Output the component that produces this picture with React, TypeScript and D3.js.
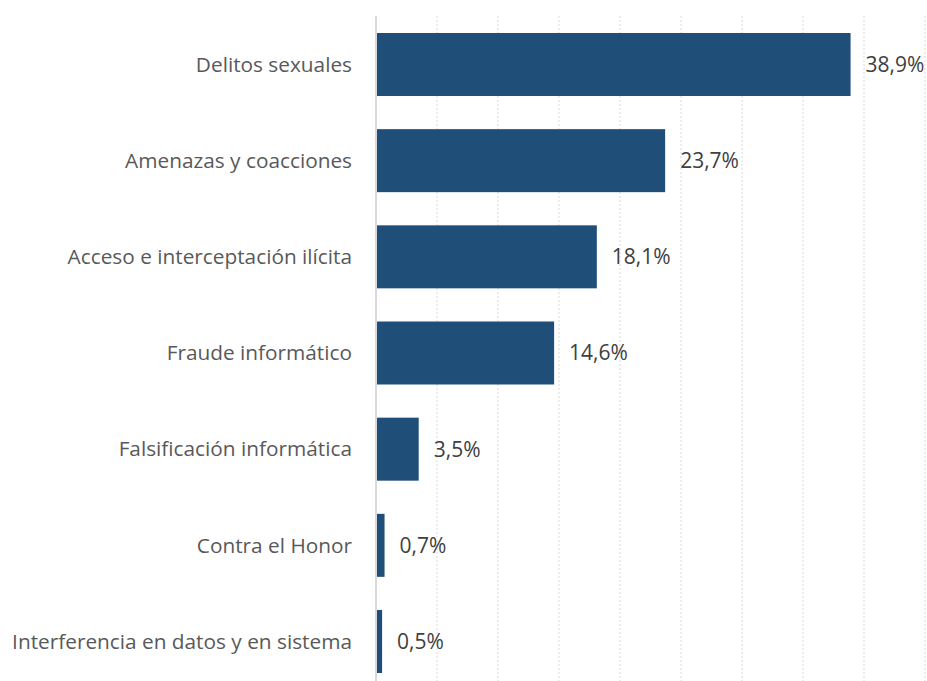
import React from "react";
import * as d3 from "d3";

const categories = [
  "Delitos sexuales",
  "Amenazas y coacciones",
  "Acceso e interceptación ilícita",
  "Fraude informático",
  "Falsificación informática",
  "Contra el Honor",
  "Interferencia en datos y en sistema",
];
const values = [38.9, 23.7, 18.1, 14.6, 3.5, 0.7, 0.5];
const valueLabels = ["38,9%", "23,7%", "18,1%", "14,6%", "3,5%", "0,7%", "0,5%"];
const gridTicks = [5, 10, 15, 20, 25, 30, 35, 40, 45];

const W = 927;
const H = 681;
const x0 = 376;

export default function App() {
  const x = d3.scaleLinear().domain([0, 45]).range([x0, 925]);
  const y = d3
    .scaleBand<string>()
    .domain(categories)
    .range([16.4, 689.6])
    .paddingInner(0.345)
    .paddingOuter(0.1725);
  const font = "'Open Sans', sans-serif";
  return (
    <svg
      width={W}
      height={H}
      style={{ position: "absolute", left: 0, top: 0, background: "#fff" }}
      fontFamily={font}
    >
      {gridTicks.map((t) => (
        <line
          key={t}
          x1={x(t)}
          x2={x(t)}
          y1={16}
          y2={H}
          stroke="#D9D9D9"
          strokeWidth={1}
          strokeDasharray="2,2"
        />
      ))}
      {categories.map((c, i) => {
        const yy = y(c)!;
        const bw = y.bandwidth();
        return (
          <g key={c}>
            <rect x={x(0)} y={yy} width={x(values[i]) - x(0)} height={bw} fill="#1F4E79" />
            <text
              x={352}
              y={yy + bw / 2}
              dy="0.35em"
              textAnchor="end"
              fontSize={20.8}
              fill="#595959"
            >
              {c}
            </text>
            <text
              x={x(values[i]) + 15}
              y={yy + bw / 2}
              dy="0.35em"
              textAnchor="start"
              fontSize={21}
              fill="#404040"
            >
              {valueLabels[i]}
            </text>
          </g>
        );
      })}
      <line x1={x0} x2={x0} y1={16} y2={H} stroke="#D9D9D9" strokeWidth={2} />
    </svg>
  );
}
